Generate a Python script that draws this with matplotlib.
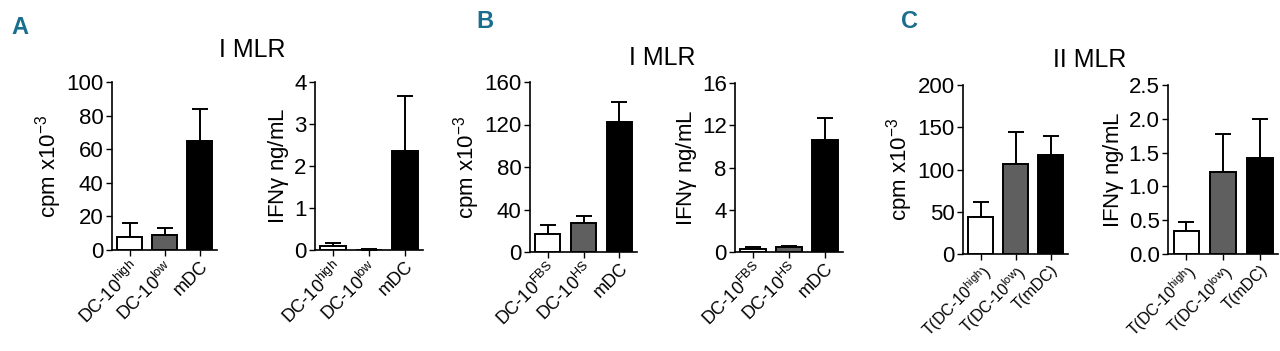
import numpy as np
import matplotlib
matplotlib.use('Agg')
import matplotlib.pyplot as plt

plt.rcParams['font.family'] = ['Liberation Sans', 'DejaVu Sans']
plt.rcParams['mathtext.fontset'] = 'custom'
plt.rcParams['mathtext.rm'] = 'Liberation Sans'
plt.rcParams['mathtext.it'] = 'Liberation Sans:italic'

# Dati
lab_a = ['DC-10$^{\\mathrm{high}}$', 'DC-10$^{\\mathrm{low}}$', 'mDC']
lab_b = ['DC-10$^{\\mathrm{FBS}}$', 'DC-10$^{\\mathrm{HS}}$', 'mDC']
lab_c = ['T(DC-10$^{\\mathrm{high}}$)', 'T(DC-10$^{\\mathrm{low}}$)', 'T(mDC)']

cpm_a = [8, 9, 65]
cpm_a_err = [8, 4, 19]
ifn_a = [0.1, 0.01, 2.35]
ifn_a_err = [0.07, 0.01, 1.32]

cpm_b = [17, 27, 122]
cpm_b_err = [8, 7, 19]
ifn_b = [0.3, 0.45, 10.6]
ifn_b_err = [0.15, 0.15, 2.1]

cpm_c = [44, 106, 117]
cpm_c_err = [18, 38, 23]
ifn_c = [0.34, 1.22, 1.42]
ifn_c_err = [0.14, 0.55, 0.58]

colori = ['white', '#5f5f5f', 'black']
W, H = 1280, 351

fig = plt.figure(figsize=(12.8, 3.51), dpi=100)


def pannello(px, top, bottom, right, vals, errs, labels, ymax, yticks, yticklabels, ylabel,
             fs_x=13):
    ax = fig.add_axes([px / W, 1 - bottom / H, (right - px) / W, (bottom - top) / H])
    x = np.arange(len(vals))
    ax.bar(x, vals, width=0.7, color=colori, edgecolor='black', linewidth=1.4, zorder=2)
    ax.errorbar(x, vals, yerr=[np.zeros(len(errs)), errs], fmt='none', ecolor='black',
                elinewidth=1.4, capsize=6, capthick=1.4, zorder=1)
    ax.set_xlim(-0.5, 2.5)
    ax.set_ylim(0, ymax)
    ax.set_yticks(yticks)
    ax.set_yticklabels(yticklabels, fontsize=16)
    ax.set_xticks(x)
    ax.set_xticklabels(labels, rotation=45, ha='right', rotation_mode='anchor', fontsize=fs_x)
    ax.set_ylabel(ylabel, fontsize=16, labelpad=2)
    ax.spines['top'].set_visible(False)
    ax.spines['right'].set_visible(False)
    ax.spines['left'].set_linewidth(1.2)
    ax.spines['bottom'].set_linewidth(1.2)
    ax.tick_params(axis='both', width=1.0, length=4, pad=2)
    ax.set_facecolor('none')
    return ax


cpm_lab = 'cpm x10$^{\\mathrm{-3}}$'
ifn_lab = 'IFN$\\mathrm{\\gamma}$ ng/mL'

# Pannello A
pannello(112, 82, 250, 217, cpm_a, cpm_a_err, lab_a, 100, [0, 20, 40, 60, 80, 100],
         ['0', '20', '40', '60', '80', '100'], cpm_lab)
pannello(315, 82, 250, 423, ifn_a, ifn_a_err, lab_a, 4, [0, 1, 2, 3, 4],
         ['0', '1', '2', '3', '4'], ifn_lab)

# Pannello B
pannello(530, 82, 252, 637, cpm_b, cpm_b_err, lab_b, 160, [0, 40, 80, 120, 160],
         ['0', '40', '80', '120', '160'], cpm_lab)
pannello(735, 83, 252, 843, ifn_b, ifn_b_err, lab_b, 16, [0, 4, 8, 12, 16],
         ['0', '4', '8', '12', '16'], ifn_lab)

# Pannello C
pannello(963, 85, 254, 1068, cpm_c, cpm_c_err, lab_c, 200, [0, 50, 100, 150, 200],
         ['0', '50', '100', '150', '200'], cpm_lab, fs_x=11.5)
pannello(1168, 85, 254, 1278, ifn_c, ifn_c_err, lab_c, 2.5, [0, 0.5, 1.0, 1.5, 2.0, 2.5],
         ['0.0', '0.5', '1.0', '1.5', '2.0', '2.5'], ifn_lab, fs_x=11.5)

# lettere e titoli
blu = '#1a6e8e'
for lx, ly, t in [(20, 28, 'A'), (485, 22, 'B'), (910, 22, 'C')]:
    fig.text(lx / W, 1 - ly / H, t, color=blu, fontsize=17, fontweight='bold',
             ha='center', va='center')
for tx, ty, t in [(252, 50, 'I MLR'), (662, 58, 'I MLR'), (1090, 60, 'II MLR')]:
    fig.text(tx / W, 1 - ty / H, t, fontsize=18, ha='center', va='center')

fig.savefig('out.png', dpi=100)
